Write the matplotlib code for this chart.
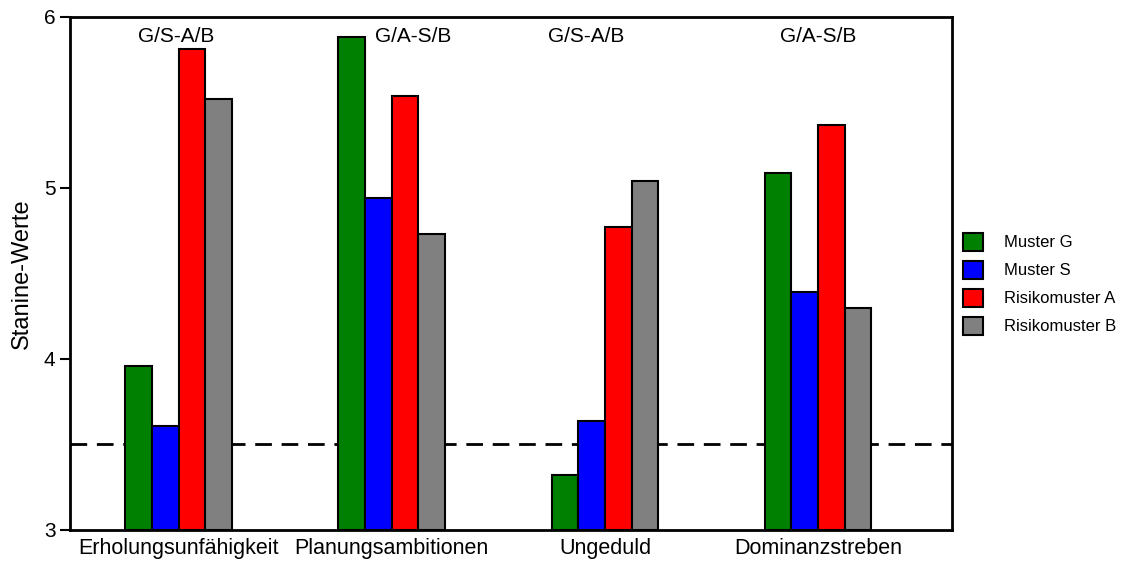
import numpy as np
import matplotlib
matplotlib.use("Agg")
import matplotlib.pyplot as plt
from matplotlib.patches import Patch

plt.rcParams['font.family'] = ['Liberation Sans', 'DejaVu Sans']

categories = ['Erholungsunfähigkeit', 'Planungsambitionen', 'Ungeduld', 'Dominanzstreben']
series = ['Muster G', 'Muster S', 'Risikomuster A', 'Risikomuster B']
colors = ['#008000', '#0000ff', '#ff0000', '#808080']
muster_g = [3.96, 5.88, 3.32, 5.09]
muster_s = [3.61, 4.94, 3.64, 4.39]
risiko_a = [5.81, 5.54, 4.77, 5.37]
risiko_b = [5.52, 4.73, 5.04, 4.30]
group_labels = ['G/S-A/B', 'G/A-S/B', 'G/S-A/B', 'G/A-S/B']
label_x = [-0.01, 1.10, 1.91, 3.00]
reference_line = 3.5

fig = plt.figure(figsize=(11.24, 5.62), dpi=100)
ax = fig.add_axes([0.0623, 0.057, 0.7847, 0.913])

x = np.arange(len(categories))
w = 0.125
values = [muster_g, muster_s, risiko_a, risiko_b]
ax.axhline(reference_line, color='black', lw=2, ls=(0, (6, 3.5)), zorder=1)
for i, (vals, c) in enumerate(zip(values, colors)):
    ax.bar(x + (i - 1.5) * w, np.array(vals) - 3, w, bottom=3, color=c,
           edgecolor='black', linewidth=1.5, zorder=2)

for xl, t in zip(label_x, group_labels):
    ax.text(xl, 5.885, t, ha='center', va='center', fontsize=15)

ax.set_xlim(-0.509, 3.628)
ax.set_ylim(3, 6)
ax.set_yticks([3, 4, 5, 6])
ax.set_xticks(x)
ax.set_xticklabels(categories, fontsize=15.5)
ax.tick_params(axis='y', labelsize=15, length=7, width=1.5, direction='out')
ax.tick_params(axis='x', length=0, pad=6)
ax.set_ylabel('Stanine-Werte', fontsize=17, labelpad=8)
for s in ax.spines.values():
    s.set_linewidth(2)

handles = [Patch(facecolor=c, edgecolor='black', linewidth=1.5) for c in colors]
fig.legend(handles, series, loc='center left', bbox_to_anchor=(0.843, 0.495),
           frameon=False, fontsize=12, handlelength=1.25, handleheight=1.25,
           handletextpad=1.25, labelspacing=0.62)

fig.savefig('out.png', dpi=100)
